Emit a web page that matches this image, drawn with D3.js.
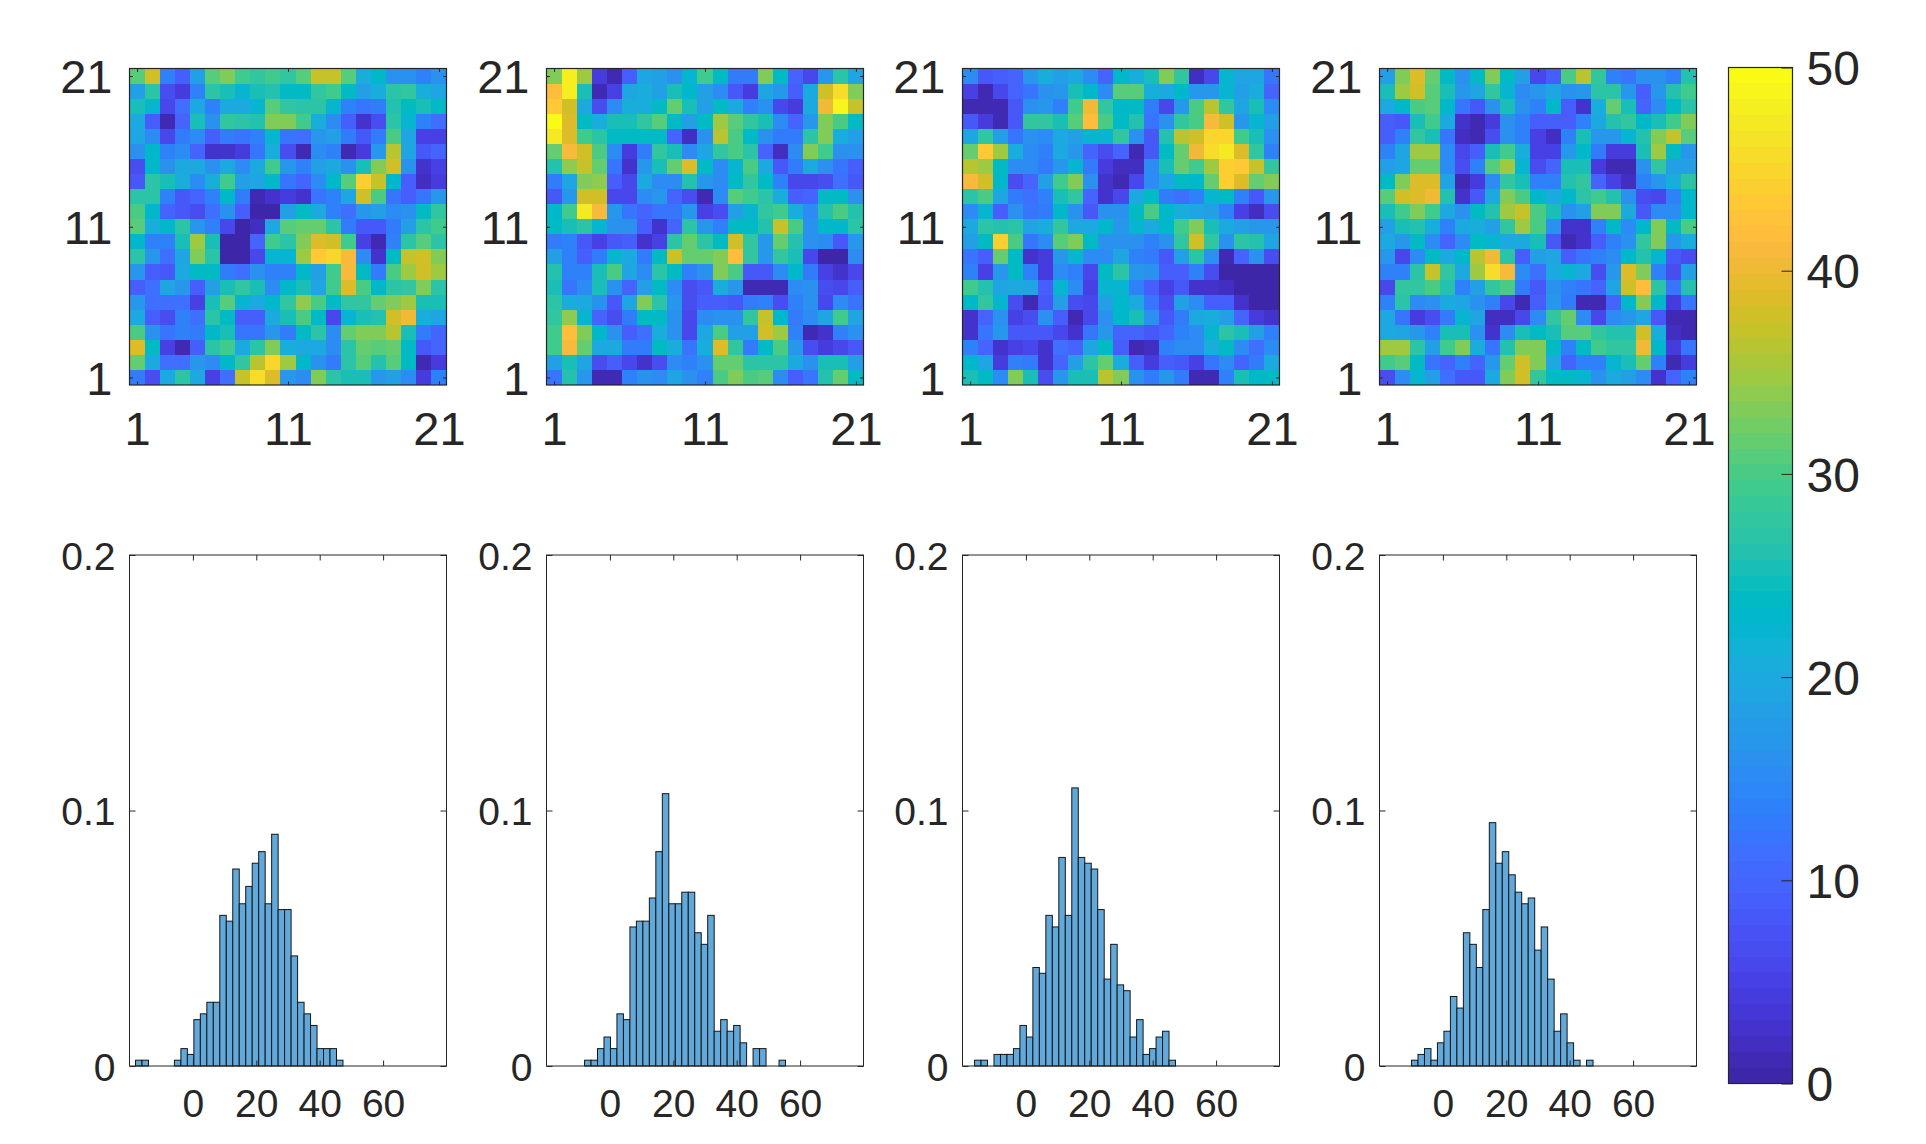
<!DOCTYPE html>
<html>
<head>
<meta charset="utf-8">
<style>
  body { margin: 0; background: #fff; }
  text { font-family: "Liberation Sans", Arial, sans-serif; fill: #262626; }
</style>
<script src="https://cdnjs.cloudflare.com/ajax/libs/d3/7.8.5/d3.min.js"></script>
</head>
<body>
<script>
// Data

// heat maps, rows from top (y = 21) to bottom (y = 1)
var heat1 = [
  [31,38,14,9,18,31,33,29,28,29,28,31,37,37,31,21,23,16,16,14,16],
  [18,27,7,4,14,27,25,22,25,26,24,24,28,29,24,18,21,27,28,21,19],
  [25,22,6,11,20,14,20,20,22,31,28,27,27,22,14,12,13,26,24,25,24],
  [20,9,1,10,25,16,28,27,26,33,33,29,21,15,9,3,7,27,22,14,11],
  [19,15,6,13,15,9,13,12,14,22,12,11,17,18,13,8,13,30,19,5,5],
  [16,23,14,15,10,3,3,4,12,21,7,1,15,14,1,4,17,36,19,8,10],
  [7,23,16,20,20,16,20,15,20,29,17,14,18,20,16,25,33,38,16,3,5],
  [8,27,25,21,15,21,29,18,19,23,12,10,15,23,31,44,37,23,9,2,4],
  [27,27,14,8,10,14,23,13,1,3,4,3,12,14,19,38,30,12,9,12,17],
  [30,23,10,8,7,11,16,9,0,0,18,24,20,14,11,17,18,15,16,24,28],
  [31,21,23,27,17,14,6,0,2,20,31,32,32,27,13,8,8,13,18,27,29],
  [23,14,14,25,35,25,0,0,10,29,27,33,39,38,29,5,1,14,27,31,27],
  [27,17,11,19,33,27,0,0,6,22,22,35,43,45,41,15,3,24,37,38,33],
  [17,9,8,20,24,24,13,11,16,14,14,23,18,29,41,24,13,30,35,38,35],
  [9,11,19,17,9,18,25,28,25,15,23,25,19,29,39,30,23,27,28,33,27],
  [17,11,11,11,5,25,31,22,20,23,28,34,30,24,28,28,32,33,35,25,25],
  [20,9,7,14,11,27,24,9,9,20,25,30,24,6,22,25,26,38,40,21,19],
  [30,16,12,14,13,23,25,12,12,17,13,24,27,15,32,33,33,36,25,13,10],
  [39,24,5,1,9,27,29,20,27,33,21,20,20,15,27,32,31,32,24,8,10],
  [32,20,11,11,17,15,23,28,36,45,35,23,16,13,27,31,26,31,24,1,4],
  [13,7,20,27,20,5,11,37,46,39,17,15,33,27,25,25,17,18,15,4,14]
];
var heat2 = [
  [33,48,35,4,1,9,19,18,16,22,29,24,13,13,33,24,10,6,17,27,19],
  [42,48,25,1,5,19,21,18,25,23,18,15,8,4,19,17,9,20,38,46,33],
  [43,38,20,7,15,21,21,24,32,25,18,24,20,14,16,6,4,20,40,49,37],
  [50,39,24,21,25,25,28,31,24,18,24,35,31,28,25,15,10,17,33,30,24],
  [47,39,29,27,24,24,24,24,10,2,16,36,30,24,16,13,13,27,33,21,18],
  [32,41,38,30,15,4,13,28,25,15,19,28,30,27,10,2,15,33,29,16,16],
  [26,34,37,32,12,3,17,25,32,39,24,15,22,30,20,8,13,20,16,12,9],
  [13,19,33,34,9,6,20,15,15,26,17,15,24,28,24,14,6,6,7,11,8],
  [8,17,38,38,6,6,15,17,10,7,1,15,31,29,27,21,9,10,24,24,16],
  [23,29,47,41,17,12,10,12,12,17,5,7,18,22,28,29,21,15,26,30,26],
  [24,25,27,22,16,16,9,3,10,27,17,14,24,24,26,37,30,16,23,23,27],
  [13,14,8,5,8,9,3,5,27,32,27,24,38,28,17,32,26,16,15,8,17],
  [18,14,9,13,22,20,13,24,37,32,32,33,42,28,17,28,25,6,0,0,15],
  [26,14,14,25,30,19,15,27,24,14,16,33,30,8,8,15,23,13,5,3,6],
  [25,12,15,25,16,10,18,24,15,7,8,21,17,1,1,1,15,16,7,6,9],
  [27,21,20,16,8,19,33,27,17,7,9,9,8,13,14,7,14,16,6,15,12],
  [28,34,22,10,7,13,24,24,16,6,15,16,16,28,37,23,13,15,19,29,19],
  [29,42,33,23,16,9,11,21,16,6,20,30,18,18,38,35,14,1,3,14,16],
  [29,41,32,20,20,13,13,24,21,12,21,39,28,13,24,30,17,7,4,6,8],
  [18,25,19,7,9,6,3,7,15,14,16,32,32,27,27,27,20,16,25,25,18],
  [12,26,17,1,1,14,16,15,19,16,14,30,33,30,31,15,9,12,26,32,24]
];
var heat3 = [
  [15,8,9,10,17,21,18,20,15,10,23,21,25,33,28,2,6,22,19,19,12],
  [5,1,6,10,12,16,17,25,23,15,31,31,21,20,23,17,17,22,18,21,10],
  [1,1,1,8,16,17,14,29,40,28,23,24,13,6,17,30,36,28,19,25,15],
  [8,4,1,8,28,28,25,31,42,30,24,26,12,16,28,30,41,38,17,22,18],
  [19,28,18,12,16,15,20,18,22,22,28,16,8,26,36,38,45,45,29,25,16],
  [32,43,35,21,15,14,20,17,10,7,10,1,8,24,32,40,46,47,39,28,14],
  [36,35,24,15,15,13,17,22,13,4,2,2,15,25,32,29,35,44,43,37,28],
  [41,38,23,7,10,18,29,33,16,3,1,6,15,19,24,23,32,44,39,32,33],
  [27,30,19,13,11,14,25,28,10,3,6,20,24,13,11,14,22,24,14,8,17],
  [15,22,9,16,12,13,23,16,8,16,16,24,30,23,21,19,18,14,5,2,7],
  [20,27,26,27,19,21,28,20,20,23,17,22,20,23,29,33,25,20,18,17,17],
  [18,24,44,30,12,15,31,33,24,16,16,16,14,16,28,38,28,16,27,26,19],
  [12,9,32,24,3,4,17,22,15,15,19,14,13,8,18,27,16,1,10,16,7],
  [14,5,17,24,14,4,15,14,6,24,27,17,16,9,9,14,7,0,0,0,0],
  [29,26,19,20,19,9,22,15,5,22,22,14,9,5,8,3,3,2,0,0,0],
  [23,28,22,7,1,8,18,7,6,18,23,20,12,7,18,15,9,9,3,0,0],
  [3,10,16,5,7,16,9,1,6,16,23,25,16,8,13,20,21,18,10,4,3],
  [3,12,17,8,8,8,6,3,12,17,10,10,8,10,14,15,22,27,25,18,14],
  [14,10,3,5,6,3,11,10,19,24,9,1,2,14,15,15,21,24,15,11,15],
  [23,19,4,14,13,3,10,18,27,32,21,9,4,9,8,5,12,15,10,13,20],
  [25,24,15,33,25,7,17,25,25,36,33,16,13,17,13,1,1,14,25,23,24]
];
var heat4 = [
  [18,33,39,32,24,16,24,33,24,18,6,9,30,36,28,14,12,16,16,14,26],
  [25,35,38,31,25,17,19,28,22,15,17,19,16,17,27,27,17,9,17,26,29],
  [20,23,30,31,23,12,8,16,25,16,14,23,9,3,21,32,25,10,15,24,27],
  [9,8,25,29,20,3,1,4,16,14,9,9,9,14,20,26,28,23,25,29,33],
  [9,14,28,25,12,2,1,7,16,14,5,2,14,25,17,17,22,26,33,37,31],
  [14,19,35,35,15,6,9,25,29,21,5,5,17,23,13,4,4,25,35,24,17],
  [18,19,32,32,15,7,14,31,35,22,7,10,25,25,4,1,1,16,28,18,18],
  [24,33,39,39,19,1,4,15,28,25,14,14,26,28,10,5,2,14,17,21,27],
  [31,38,39,40,26,3,8,20,33,30,23,20,23,27,29,26,16,7,6,14,23],
  [25,29,33,29,20,16,24,26,35,37,30,25,16,18,33,33,20,8,15,15,23],
  [18,25,26,21,14,20,21,18,28,35,30,16,3,3,14,23,15,23,33,24,30],
  [20,17,24,15,10,15,24,22,20,20,25,8,1,3,9,14,16,28,33,17,21],
  [17,6,15,24,20,23,36,40,27,9,18,19,9,12,14,15,23,26,22,8,7],
  [14,14,27,37,28,20,35,46,41,15,11,20,22,20,7,17,39,33,14,7,18],
  [6,28,28,30,26,14,18,28,30,13,8,16,14,12,10,19,38,42,27,12,26],
  [14,27,15,16,20,19,16,14,6,1,9,17,13,1,1,10,23,33,23,4,12],
  [20,12,4,7,13,22,19,2,2,6,15,28,32,15,6,15,17,19,8,1,1],
  [20,19,17,14,25,25,16,3,15,25,24,25,31,31,28,26,26,38,21,2,1],
  [35,35,27,18,29,33,21,12,26,33,33,24,14,24,29,28,28,40,23,4,12],
  [29,31,24,12,10,14,10,17,32,38,33,20,10,14,14,22,25,32,14,1,4],
  [7,15,22,18,11,8,8,20,33,38,28,24,24,22,16,20,18,15,3,10,14]
];
var heatData = [heat1, heat2, heat3, heat4];

// histogram counts per bin (441 cells per map)
var counts1 = [1,1,0,0,0,0,1,3,2,8,9,11,11,26,25,34,28,31,35,37,28,40,27,27,19,11,9,7,3,3,3,1];
var counts2 = [1,1,3,5,3,9,8,24,25,25,29,37,47,28,28,30,30,23,21,26,6,8,6,7,4,0,3,3,0,0,1];
var counts3 = [1,1,0,2,2,2,3,7,5,17,16,26,24,36,26,48,36,35,34,27,15,21,14,13,5,8,2,3,5,6,1];
var counts4 = [1,2,3,1,4,6,12,10,23,21,17,27,42,35,37,33,30,28,29,20,24,15,6,9,4,1,0,1];
var countData = [counts1, counts2, counts3, counts4];
var binStart = [-18.1, -8, -16.2, -9.9];
var binWidth = 2.045;
var totalCells = 441;

var heatTicks = [1, 11, 21];
var histXTicks = [0, 20, 40, 60];
var histYTicks = [0, 0.1, 0.2];
var barTicks = [0, 10, 20, 30, 40, 50];

// MATLAB parula, 64 levels
var parula = [[0.2422,0.1504,0.6603],[0.2504,0.1650,0.7076],[0.2578,0.1818,0.7511],[0.2647,0.1978,0.7952],[0.2706,0.2147,0.8364],[0.2751,0.2342,0.8710],[0.2783,0.2559,0.8991],[0.2803,0.2782,0.9221],[0.2813,0.3006,0.9414],[0.2810,0.3228,0.9579],[0.2795,0.3447,0.9717],[0.2760,0.3667,0.9829],[0.2699,0.3892,0.9906],[0.2602,0.4123,0.9952],[0.2440,0.4358,0.9988],[0.2206,0.4603,0.9973],[0.1963,0.4847,0.9892],[0.1834,0.5074,0.9798],[0.1786,0.5289,0.9682],[0.1764,0.5499,0.9520],[0.1687,0.5703,0.9359],[0.1540,0.5902,0.9218],[0.1460,0.6091,0.9079],[0.1380,0.6276,0.8973],[0.1248,0.6459,0.8883],[0.1113,0.6635,0.8763],[0.0952,0.6798,0.8598],[0.0689,0.6948,0.8394],[0.0297,0.7082,0.8163],[0.0036,0.7203,0.7917],[0.0067,0.7312,0.7660],[0.0433,0.7411,0.7394],[0.0964,0.7500,0.7120],[0.1408,0.7584,0.6842],[0.1717,0.7670,0.6554],[0.1938,0.7758,0.6251],[0.2161,0.7843,0.5923],[0.2470,0.7918,0.5567],[0.2906,0.7973,0.5188],[0.3406,0.8008,0.4789],[0.3909,0.8029,0.4354],[0.4456,0.8024,0.3909],[0.5044,0.7993,0.3480],[0.5616,0.7942,0.3045],[0.6174,0.7876,0.2612],[0.6720,0.7793,0.2227],[0.7242,0.7698,0.1910],[0.7738,0.7598,0.1646],[0.8203,0.7498,0.1535],[0.8634,0.7406,0.1596],[0.9035,0.7330,0.1774],[0.9393,0.7288,0.2100],[0.9728,0.7298,0.2394],[0.9956,0.7434,0.2371],[0.9970,0.7659,0.2199],[0.9952,0.7893,0.2028],[0.9892,0.8136,0.1885],[0.9786,0.8386,0.1766],[0.9676,0.8639,0.1643],[0.9610,0.8890,0.1537],[0.9597,0.9135,0.1423],[0.9628,0.9373,0.1265],[0.9691,0.9606,0.1064],[0.9769,0.9839,0.0805]];

var w = 1926;
var h = 1144;
var panelLeft = [129.5, 546.5, 962.5, 1379.5];
var panelW = 317;

var svg = d3.select("body").append("svg")
    .attr("width", w)
    .attr("height", h);

var color = d3.scaleQuantize()
    .domain([0, 50])
    .range(parula.map(function(c) { return d3.rgb(c[0] * 255, c[1] * 255, c[2] * 255).formatHex(); }));

// clean up an axis: no domain line, dark ticks, given font size
function styleAxis(sel, fontSize, strokeW) {
  sel.select(".domain").remove();
  sel.attr("font-size", null).attr("font-family", null);
  sel.selectAll("text").style("font-size", fontSize + "px");
  sel.selectAll("line").attr("stroke", "#262626").attr("stroke-width", strokeW);
}

function frame(g, x, y, fw, fh, strokeW) {
  g.append("rect")
    .attr("x", x).attr("y", y)
    .attr("width", fw).attr("height", fh)
    .attr("fill", "none")
    .attr("stroke", "#262626")
    .attr("stroke-width", strokeW);
}

// top row: heat maps
var heatTop = 68.5, heatH = 316.5;
heatData.forEach(function(rows, p) {
  var g = svg.append("g").attr("transform", "translate(" + panelLeft[p] + "," + heatTop + ")");
  var x = d3.scaleLinear().domain([0.5, 21.5]).range([0, panelW]);
  var y = d3.scaleLinear().domain([0.5, 21.5]).range([heatH, 0]);

  rows.forEach(function(row, r) {
    g.selectAll(".r" + r)
      .data(row)
      .enter().append("rect")
        .attr("class", "r" + r)
        .attr("x", function(d, i) { return x(i + 0.5); })
        .attr("y", y(21 - r + 0.5))
        .attr("width", x(1.5) - x(0.5))
        .attr("height", y(0.5) - y(1.5))
        .attr("fill", function(d) { return color(d); })
        .attr("shape-rendering", "crispEdges");
  });

  g.append("g").attr("transform", "translate(0," + heatH + ")")
    .call(d3.axisBottom(x).tickValues(heatTicks).tickSizeInner(-3.5).tickSizeOuter(0).tickPadding(26.5))
    .call(styleAxis, 47, 1);
  g.append("g")
    .call(d3.axisLeft(y).tickValues(heatTicks).tickSizeInner(-3.5).tickSizeOuter(0).tickPadding(17))
    .call(styleAxis, 47, 1)
    .selectAll("text").attr("dy", ".36em");
  g.append("g")
    .call(d3.axisTop(x).tickValues(heatTicks).tickFormat("").tickSizeInner(-3.5).tickSizeOuter(0))
    .call(styleAxis, 47, 1);
  g.append("g").attr("transform", "translate(" + panelW + ",0)")
    .call(d3.axisRight(y).tickValues(heatTicks).tickFormat("").tickSizeInner(-3.5).tickSizeOuter(0))
    .call(styleAxis, 47, 1);

  frame(g, 0, 0, panelW, heatH, 1.2);
});

// bottom row: histograms
var histTop = 555, histH = 511;
countData.forEach(function(counts, p) {
  var g = svg.append("g").attr("transform", "translate(" + panelLeft[p] + "," + histTop + ")");
  var x = d3.scaleLinear().domain([-20, 80]).range([0, panelW]);
  var y = d3.scaleLinear().domain([0, 0.2]).range([histH, 0]);

  counts.forEach(function(c, i) {
    if (c == 0) return;
    g.append("rect")
      .attr("class", "bar")
      .attr("x", x(binStart[p] + i * binWidth))
      .attr("y", y(c / totalCells))
      .attr("width", x(binWidth) - x(0))
      .attr("height", y(0) - y(c / totalCells))
      .attr("fill", "#62a9db")
      .attr("stroke", "#151515")
      .attr("stroke-width", 1);
  });

  g.append("g").attr("transform", "translate(0," + histH + ")")
    .call(d3.axisBottom(x).tickValues(histXTicks).tickSizeInner(-5.5).tickSizeOuter(0).tickPadding(23))
    .call(styleAxis, 39, 1);
  g.append("g")
    .call(d3.axisLeft(y).tickValues(histYTicks).tickFormat(function(d) { return d == 0 ? "0" : d3.format(".1f")(d); }).tickSizeInner(-6).tickSizeOuter(0).tickPadding(14))
    .call(styleAxis, 39, 1)
    .selectAll("text").attr("dy", ".36em");
  g.append("g")
    .call(d3.axisTop(x).tickValues(histXTicks).tickFormat("").tickSizeInner(-5.5).tickSizeOuter(0))
    .call(styleAxis, 39, 1);
  g.append("g").attr("transform", "translate(" + panelW + ",0)")
    .call(d3.axisRight(y).tickValues(histYTicks).tickFormat("").tickSizeInner(-6).tickSizeOuter(0))
    .call(styleAxis, 39, 1);

  frame(g, 0, 0, panelW, histH, 1);
});

// colour bar
var barLeft = 1728.5, barW = 64, barTop = 67.5, barH = 1016;
var barG = svg.append("g").attr("transform", "translate(" + barLeft + "," + barTop + ")");
var barY = d3.scaleLinear().domain([0, 50]).range([barH, 0]);

barG.selectAll("rect")
  .data(color.range())
  .enter().append("rect")
    .attr("x", 0)
    .attr("y", function(d) { return barY(color.invertExtent(d)[1]); })
    .attr("width", barW)
    .attr("height", function(d) { var e = color.invertExtent(d); return barY(e[0]) - barY(e[1]); })
    .attr("fill", function(d) { return d; })
    .attr("shape-rendering", "crispEdges");

barG.append("g").attr("transform", "translate(" + barW + ",0)")
  .call(d3.axisRight(barY).tickValues(barTicks).tickSizeInner(-11).tickSizeOuter(0).tickPadding(14))
  .call(styleAxis, 48, 1)
  .selectAll("text").attr("dy", ".36em");

frame(barG, 0, 0, barW, barH, 1.2);
</script>
</body>
</html>
